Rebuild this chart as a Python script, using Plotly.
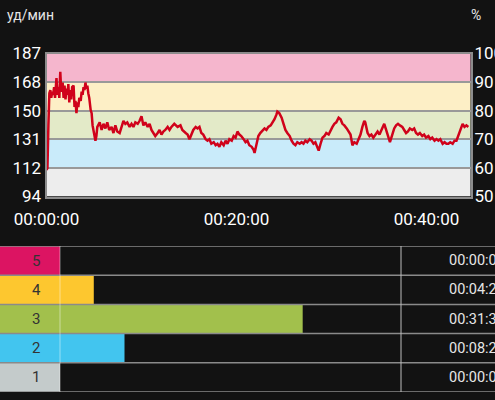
import plotly.graph_objects as go

# heart rate trace: time in minutes, bpm
time_min = [
    0.0, 0.1, 0.2, 0.3, 0.4, 0.5, 0.6, 0.7, 0.8, 0.9, 1.05, 1.15, 1.25, 1.35, 1.45,
    1.55, 1.7, 1.8, 1.9, 2.0, 2.1, 2.2, 2.3, 2.4, 2.5, 2.6, 2.7, 2.85, 2.95, 3.05,
    3.15, 3.25, 3.35, 3.45, 3.6, 3.7, 3.8, 3.9, 4.0, 4.1, 4.2, 4.3, 4.4, 4.5, 4.65,
    4.75, 4.85, 4.95, 5.05, 5.15, 5.25, 5.35, 5.6, 5.8, 6.0, 6.2, 6.4, 6.6, 6.85, 7.05,
    7.25, 7.45, 7.7, 7.9, 8.1, 8.3, 8.5, 8.75, 8.95, 9.15, 9.35, 9.6, 9.8, 10.0, 10.2,
    10.4, 10.65, 10.85, 11.05, 11.25, 11.45, 11.7, 11.9, 12.1, 12.3, 12.5, 12.75, 12.95, 13.15, 13.45,
    13.8, 14.1, 14.3, 14.65, 14.85, 15.05, 15.25, 15.45, 15.7, 15.9, 16.1, 16.3, 16.5, 16.75, 16.95,
    17.15, 17.35, 17.6, 17.8, 18.0, 18.2, 18.4, 18.65, 18.85, 19.05, 19.25, 19.5, 19.7, 19.9, 20.1,
    20.3, 20.5, 20.75, 20.95, 21.15, 21.35, 21.6, 21.8, 21.9, 22.1, 22.3, 22.5, 22.75, 22.95, 23.15,
    23.35, 23.6, 23.8, 24.0, 24.2, 24.3, 24.5, 24.75, 24.95, 25.15, 25.35, 25.6, 25.8, 26.0, 26.2,
    26.4, 26.65, 26.85, 27.05, 27.25, 27.45, 27.7, 27.9, 28.1, 28.3, 28.5, 28.65, 28.85, 29.05, 29.25,
    29.45, 29.7, 29.9, 30.1, 30.3, 30.5, 30.75, 30.95, 31.15, 31.35, 31.6, 31.8, 32.0, 32.2, 32.4,
    32.65, 32.85, 33.05, 33.25, 33.45, 33.55, 33.8, 34.0, 34.2, 34.4, 34.6, 34.85, 35.05, 35.25, 35.45,
    35.55, 35.75, 35.95, 36.15, 36.35, 36.6, 36.8, 37.0, 37.2, 37.45, 37.65, 37.85, 38.05, 38.25, 38.5,
    38.7, 38.9, 39.1, 39.3, 39.55, 39.75, 39.95, 40.2, 40.4, 40.6, 40.85, 41.05, 41.25, 41.45, 41.7,
    41.9, 42.1, 42.3, 42.5, 42.75, 42.95, 43.15, 43.35, 43.55, 43.8, 44.0, 44.2, 44.4,
]
heart_rate = [
    111, 112, 140, 161, 163, 158, 162, 160, 165, 158, 171, 160, 165, 158, 175,
    162, 168, 158, 166, 157, 164, 160, 167, 155, 163, 157, 165, 166, 152, 156,
    148, 155, 152, 158, 156, 162, 160, 165, 163, 168, 164, 166, 161, 158, 150,
    148, 140, 136, 133, 130, 133, 139, 142, 137, 141, 138, 142, 137, 139, 135,
    140, 136, 135, 139, 143, 141, 142, 139, 141, 139, 142, 141, 143, 146, 140,
    142, 139, 141, 137, 135, 133, 135, 137, 134, 136, 137, 139, 137, 139, 141,
    139, 140, 137, 135, 134, 131, 134, 137, 139, 138, 139, 135, 134, 131, 130,
    131, 128, 129, 127, 128, 126, 129, 127, 130, 128, 131, 130, 133, 132, 136,
    134, 133, 131, 129, 130, 127, 126, 124, 122, 127, 133, 135, 137, 138, 137,
    139, 140, 142, 144, 147, 149, 148, 145, 141, 137, 135, 133, 130, 128, 127,
    129, 128, 129, 128, 130, 129, 131, 130, 128, 129, 125, 123.5, 128, 132, 133,
    135, 134, 137, 139, 141, 142, 145, 144, 141, 140, 138, 136, 134, 127, 129,
    128, 131, 134, 139, 143, 142, 135, 133, 134, 132, 134, 136, 134, 137, 139,
    141, 137, 133, 129, 133, 138, 140, 141, 140, 139, 137, 135, 136, 138, 137,
    138, 135, 134, 135, 133, 134, 132, 133, 131, 132, 130, 131, 130, 131, 128,
    129, 128, 128, 129, 128, 130, 130, 133, 137, 141, 139, 140, 139,
]

# zone limits (bpm) and labels
max_hr = 187.0
zone_edges = [93.5, 112.2, 130.9, 149.6, 168.3, 187.0]
zone_tick_text = ["94", "112", "131", "150", "168", "187"]
zone_band_colors = ["#ededed", "#c9ebfa", "#e3eac8", "#fdefc6", "#f5b6cd"]
pct_ticks = [50, 60, 70, 80, 90, 100]

# time in zone table
zones = [1, 2, 3, 4, 5]
zone_times = ["00:00:00", "00:08:24", "00:31:36", "00:04:24", "00:00:00"]
zone_colors = ["#c4cbcb", "#42c5ef", "#a2c04c", "#fdc72f", "#dc1462"]

time_ticks = [0, 20, 40]
time_tick_text = ["00:00:00", "00:20:00", "00:40:00"]


def to_minutes(s):
    h, m, sec = (int(v) for v in s.split(":"))
    return h * 60 + m + sec / 60


W, H = 495, 400
BG = "#121212"
FONT = "Roboto"

durations = [to_minutes(s) for s in zone_times]
total = sum(durations)

fig = go.Figure()

fig.add_trace(go.Scatter(
    x=time_min, y=heart_rate, mode="lines",
    line={"color": "#d0021b", "width": 2.5},
    xaxis="x", yaxis="y", showlegend=False,
))
# same trace as % of max, invisible, so the right axis is drawn
fig.add_trace(go.Scatter(
    x=time_min, y=[v / max_hr * 100 for v in heart_rate], mode="lines",
    line={"color": "rgba(0,0,0,0)", "width": 0}, hoverinfo="skip",
    xaxis="x", yaxis="y3", showlegend=False,
))

fig.add_trace(go.Bar(
    x=durations, y=zones, orientation="h", width=1,
    marker={"color": zone_colors, "line": {"width": 0}},
    xaxis="x2", yaxis="y2", showlegend=False,
))

# heart rate bands
for lo, hi, c in zip(zone_edges[:-1], zone_edges[1:], zone_band_colors):
    fig.add_shape(type="rect", xref="x domain", yref="y", x0=0, x1=1,
                  y0=lo, y1=hi, fillcolor=c, line_width=0, layer="below")

# table cells and lines
cell_w = 60 / W
for z, c in zip(zones, zone_colors):
    fig.add_shape(type="rect", xref="paper", yref="y2", x0=0, x1=cell_w,
                  y0=z - 0.5, y1=z + 0.5, fillcolor=c, line_width=0, layer="below")
    fig.add_annotation(x=cell_w / 2, y=z, xref="paper", yref="y2", text=str(z),
                       showarrow=False, font={"size": 15, "color": "#333333", "family": FONT})
for z, t in zip(zones, zone_times):
    fig.add_annotation(x=447 / W, y=z, xref="paper", yref="y2", text=t,
                       xanchor="left", showarrow=False,
                       font={"size": 14.5, "color": "#e6e6e6", "family": FONT})
for k in range(6):
    fig.add_shape(type="line", xref="paper", yref="y2", x0=0, x1=1,
                  y0=0.5 + k, y1=0.5 + k, line={"color": "#8a8a8a", "width": 1.5})
fig.add_shape(type="line", xref="paper", yref="y2", x0=cell_w, x1=cell_w,
              y0=0.5, y1=5.5, line={"color": "rgba(255,255,255,0.45)", "width": 1})
fig.add_shape(type="line", xref="paper", yref="y2", x0=401 / W, x1=401 / W,
              y0=0.5, y1=5.5, line={"color": "#bdbdbd", "width": 1})

# unit labels
fig.add_annotation(x=5 / W, y=1 - 15 / H, xref="paper", yref="paper", text="уд/мин",
                   xanchor="left", yanchor="middle", showarrow=False,
                   font={"size": 14, "color": "#e6e6e6", "family": FONT})
fig.add_annotation(x=483 / W, y=1 - 15 / H, xref="paper", yref="paper", text="%",
                   yanchor="middle", showarrow=False,
                   font={"size": 14, "color": "#e6e6e6", "family": FONT})

tick_font = {"size": 17, "color": "#ffffff", "family": FONT}
top_dom = [(H - 196.5) / H, (H - 53.5) / H]

fig.update_layout(
    width=W, height=H,
    margin={"l": 0, "r": 0, "t": 0, "b": 0, "autoexpand": False},
    paper_bgcolor=BG, plot_bgcolor=BG,
    font={"family": FONT},
    xaxis={
        "domain": [46.5 / W, 470.5 / W], "range": [0, 44.63],
        "tickvals": time_ticks, "ticktext": time_tick_text, "tickfont": tick_font,
        "showgrid": False, "zeroline": False, "ticks": "",
        "ticklabelstandoff": 6, "automargin": False,
        "showline": True, "mirror": True, "linecolor": "#8c8c8c", "linewidth": 2,
        "anchor": "y",
    },
    yaxis={
        "domain": top_dom, "range": [93.5, 187],
        "tickvals": zone_edges, "ticktext": zone_tick_text, "tickfont": tick_font,
        "showgrid": True, "gridcolor": "#999999", "gridwidth": 1.5,
        "zeroline": False, "ticks": "", "automargin": False,
        "showline": True, "mirror": True, "linecolor": "#8c8c8c", "linewidth": 2,
        "anchor": "x",
    },
    yaxis3={
        "domain": top_dom, "range": [50, 100], "overlaying": "y", "side": "right",
        "tickvals": pct_ticks, "tickfont": tick_font, "anchor": "x",
        "showgrid": False, "zeroline": False, "ticks": "", "automargin": False,
        "ticklabelstandoff": 3,
    },
    xaxis2={
        "domain": [60 / W, 401 / W], "range": [0, total], "anchor": "y2",
        "visible": False, "fixedrange": True, "automargin": False,
    },
    yaxis2={
        "domain": [8 / H, 154 / H], "range": [0.5, 5.5], "anchor": "x2",
        "visible": False, "automargin": False,
    },
)

fig.write_html(
    "out.html",
    config={"displayModeBar": False},
    post_script="document.body.style.margin='0';document.body.style.background='#121212';",
)
